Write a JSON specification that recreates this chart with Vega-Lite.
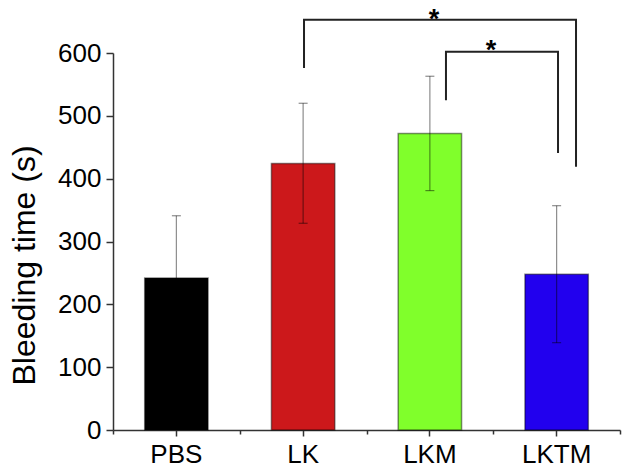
{
  "$schema": "https://vega.github.io/schema/vega-lite/v6.json",
  "width": 507,
  "height": 377,
  "autosize": {"type": "none"},
  "padding": {"left": 113, "top": 53, "right": 5, "bottom": 41},
  "background": "white",
  "config": {
    "view": {"stroke": null},
    "font": "Liberation Sans",
    "axis": {
      "domainColor": "#333333",
      "domainWidth": 1.5,
      "tickColor": "#333333",
      "tickWidth": 1.5,
      "labelColor": "black",
      "titleColor": "black",
      "labelFont": "Liberation Sans",
      "titleFont": "Liberation Sans",
      "grid": false
    }
  },
  "datasets": {
    "bars": [
      {"Group": "PBS", "Mean": 242, "Lower": 144, "Upper": 341},
      {"Group": "LK", "Mean": 424, "Lower": 329, "Upper": 520},
      {"Group": "LKM", "Mean": 472, "Lower": 381, "Upper": 563},
      {"Group": "LKTM", "Mean": 248, "Lower": 139, "Upper": 357}
    ],
    "brackets": [
      {"Bracket": "LK vs LKTM", "Order": 1, "Pos": 1.507, "Value": 576},
      {"Bracket": "LK vs LKTM", "Order": 2, "Pos": 1.507, "Value": 653},
      {"Bracket": "LK vs LKTM", "Order": 3, "Pos": 3.653, "Value": 653},
      {"Bracket": "LK vs LKTM", "Order": 4, "Pos": 3.653, "Value": 419},
      {"Bracket": "LKM vs LKTM", "Order": 1, "Pos": 2.627, "Value": 525},
      {"Bracket": "LKM vs LKTM", "Order": 2, "Pos": 2.627, "Value": 602},
      {"Bracket": "LKM vs LKTM", "Order": 3, "Pos": 3.511, "Value": 602},
      {"Bracket": "LKM vs LKTM", "Order": 4, "Pos": 3.511, "Value": 441}
    ],
    "stars": [
      {"Bracket": "LK vs LKTM", "Pos": 2.533, "Value": 639, "Label": "*"},
      {"Bracket": "LKM vs LKTM", "Pos": 2.982, "Value": 590, "Label": "*"}
    ]
  },
  "layer": [
    {
      "data": {"name": "bars"},
      "encoding": {
        "x": {
          "field": "Group",
          "type": "nominal",
          "sort": ["PBS", "LK", "LKM", "LKTM"],
          "scale": {"type": "band", "paddingInner": 0.5, "paddingOuter": 0.25},
          "axis": {
            "title": null,
            "labelAngle": 0,
            "labelFontSize": 26,
            "labelPadding": 5,
            "tickSize": 6,
            "domain": true
          }
        }
      },
      "layer": [
        {
          "mark": {"type": "bar", "stroke": "black", "strokeOpacity": 0.45, "strokeWidth": 1.5},
          "encoding": {
            "y": {
              "field": "Mean",
              "type": "quantitative",
              "scale": {"domain": [0, 600], "nice": false},
              "axis": {
                "title": "Bleeding time (s)",
                "titleFontSize": 32,
                "titleFontWeight": "normal",
                "titlePadding": 16,
                "titleY": 212,
                "values": [0, 50, 100, 150, 200, 250, 300, 350, 400, 450, 500, 550, 600],
                "labelExpr": "datum.value % 100 === 0 ? datum.label : ''",
                "labelFontSize": 26,
                "labelPadding": 5,
                "tickSize": {"condition": {"test": "datum.value % 100 === 0", "value": 7}, "value": 4}
              }
            },
            "color": {
              "field": "Group",
              "type": "nominal",
              "scale": {
                "domain": ["PBS", "LK", "LKM", "LKTM"],
                "range": ["#000000", "#CC181B", "#80FF2B", "#2200EE"]
              },
              "legend": null
            }
          }
        },
        {
          "mark": {"type": "rule", "color": "black", "opacity": 0.45, "strokeWidth": 1.2},
          "encoding": {
            "y": {"field": "Lower", "type": "quantitative"},
            "y2": {"field": "Upper"}
          }
        },
        {
          "mark": {"type": "tick", "color": "black", "opacity": 0.45, "size": 9, "thickness": 1.2},
          "encoding": {
            "y": {"field": "Upper", "type": "quantitative"}
          }
        },
        {
          "mark": {"type": "tick", "color": "black", "opacity": 0.45, "size": 9, "thickness": 1.2},
          "encoding": {
            "y": {"field": "Lower", "type": "quantitative"}
          }
        }
      ]
    },
    {
      "encoding": {
        "x": {
          "field": "Pos",
          "type": "quantitative",
          "scale": {"domain": [0, 4], "nice": false, "zero": false},
          "axis": {
            "orient": "bottom",
            "values": [0, 1, 2, 3, 4],
            "labels": false,
            "domain": false,
            "tickSize": 4,
            "title": null
          }
        },
        "y": {"field": "Value", "type": "quantitative"}
      },
      "layer": [
        {
          "data": {"name": "brackets"},
          "mark": {"type": "line", "color": "#222222", "strokeWidth": 2, "strokeJoin": "miter", "clip": false},
          "encoding": {
            "detail": {"field": "Bracket", "type": "nominal"},
            "order": {"field": "Order", "type": "quantitative"}
          }
        },
        {
          "data": {"name": "stars"},
          "mark": {"type": "text", "fontSize": 27, "fontWeight": "bold", "align": "center", "baseline": "alphabetic", "color": "black"},
          "encoding": {
            "text": {"field": "Label"}
          }
        }
      ]
    }
  ],
  "resolve": {"scale": {"x": "independent"}}
}
